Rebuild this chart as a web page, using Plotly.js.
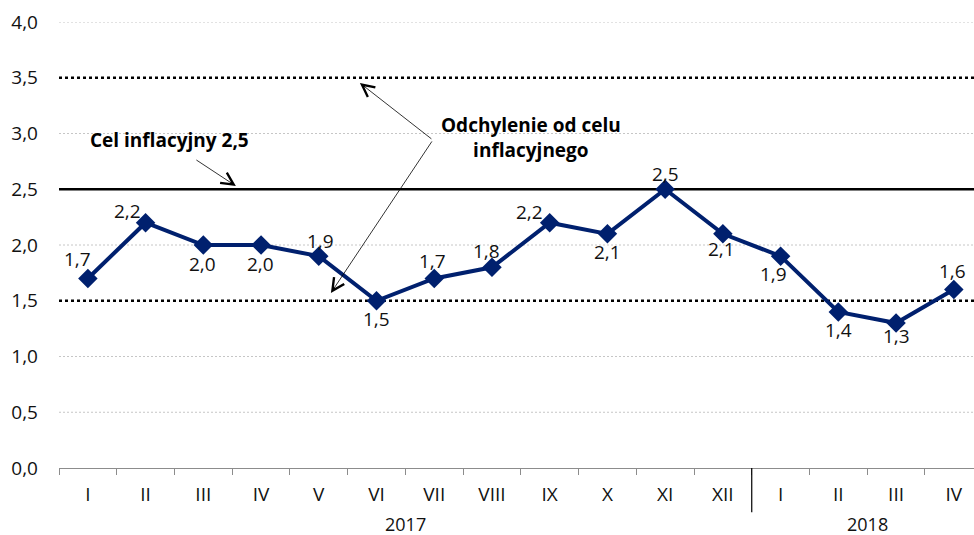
<!DOCTYPE html>
<html><head><meta charset="utf-8">
<script src="https://cdn.plot.ly/plotly-3.0.1.min.js"></script>
<style>html,body{margin:0;padding:0;background:#fff}#chart{width:974px;height:535px}</style>
</head><body><div id="chart"></div>
<script>
const months = ['I','II','III','IV','V','VI','VII','VIII','IX','X','XI','XII','I','II','III','IV'];
const years = ['2017','2018'];
const yearFirst = [0, 12];
const yearLast = [11, 15];
const inflation = [1.7,2.2,2.0,2.0,1.9,1.5,1.7,1.8,2.2,2.1,2.5,2.1,1.9,1.4,1.3,1.6];
const target = 2.5;
const bandLow = 1.5;
const bandHigh = 3.5;
const yTicks = [0,0.5,1,1.5,2,2.5,3,3.5,4];

// label offsets in pixels (style only)
const labelShiftX = [-10,-18,-1,-1,2,0,-2,-5,-20,0,0,-1,-7,0,0,-1];
const labelShiftY = [18,11,-20,-20,14,-19,16,15,10,-19,14,-16,-19,-19,-14,18];

const xIdx = months.map((m,i)=>i);
const fmt = v => v.toFixed(1).replace('.', ',');
const navy = '#00206e';
const FONT = 'Open Sans, sans-serif';

const trace = {
  x: xIdx, y: inflation, type: 'scatter', mode: 'lines+markers',
  line: {color: navy, width: 4},
  marker: {symbol: 'diamond', size: 15, color: navy},
  cliponaxis: false, hoverinfo: 'skip'
};

const refLines = [bandLow, target, bandHigh];
const shapes = [];
// light dashed gridlines (skip 0 = axis line, and the reference lines)
yTicks.filter(v => v > 0 && !refLines.includes(v)).forEach(v => {
  shapes.push({type:'line', xref:'paper', x0:0, x1:1, yref:'y', y0:v, y1:v,
    line:{color:'#c6c6c6', width:1, dash:'2px,2px'}, layer:'below'});
});
shapes.push(
  {type:'line', xref:'paper', x0:0, x1:1, yref:'y', y0:bandHigh, y1:bandHigh, line:{color:'#000', width:2.5, dash:'dot'}, layer:'between'},
  {type:'line', xref:'paper', x0:0, x1:1, yref:'y', y0:target, y1:target, line:{color:'#000', width:2.5}, layer:'between'},
  {type:'line', xref:'paper', x0:0, x1:1, yref:'y', y0:bandLow, y1:bandLow, line:{color:'#000', width:2.5, dash:'dot'}, layer:'between'},
  {type:'line', xref:'x', x0:yearLast[0]+0.5, x1:yearLast[0]+0.5, yref:'paper', y0:0, y1:-0.099, line:{color:'#000', width:1.2}}
);

const annotations = [
  {text:'<b>Cel inflacyjny 2,5</b>', x:1.42, y:2.94, xref:'x', yref:'y', showarrow:false,
   font:{family:FONT, size:19, color:'#000'}},
  {text:'<b>Odchylenie od celu<br>inflacyjnego</b>', x:7.67, y:2.96, xref:'x', yref:'y', showarrow:false,
   font:{family:FONT, size:19, color:'#000'}},
  {text:'', x:2.564, y:2.529, xref:'x', yref:'y', showarrow:true, ax:-41, ay:-27,
   arrowhead:5, arrowsize:3, arrowwidth:0.8, arrowcolor:'#000'},
  {text:'', x:4.712, y:3.453, xref:'x', yref:'y', showarrow:true, ax:73, ay:57,
   arrowhead:5, arrowsize:3, arrowwidth:0.8, arrowcolor:'#000'},
  {text:'', x:4.21, y:1.57, xref:'x', yref:'y', showarrow:true, ax:102, ay:-153,
   arrowhead:5, arrowsize:3, arrowwidth:0.8, arrowcolor:'#000'}
];
inflation.forEach((v,i)=>{
  annotations.push({text: fmt(v), x:i, y:v, xref:'x', yref:'y', showarrow:false,
    xanchor:'center', yanchor:'middle', xshift:labelShiftX[i], yshift:labelShiftY[i]+1,
    font:{family:FONT, size:19, color:'#111'}});
});
years.forEach((yr,i)=>{
  annotations.push({text: yr, x:(yearFirst[i]+yearLast[i])/2, y:-0.1256, xref:'x', yref:'paper',
    yanchor:'middle', showarrow:false, font:{family:FONT, size:18, color:'#111'}});
});

const layout = {
  width: 974, height: 535,
  margin: {l:59, r:0, t:22, b:67},
  paper_bgcolor:'#fff', plot_bgcolor:'#fff',
  separators: ', ',
  showlegend: false,
  xaxis: {
    range:[-0.5, 15.35], tickmode:'array', tickvals:xIdx, ticktext:months,
    ticks:'outside', ticklen:9, tickcolor:'rgba(0,0,0,0)',
    tickfont:{family:FONT, size:19, color:'#111'},
    showgrid:false, zeroline:false, showline:true, linecolor:'#8c8c8c', linewidth:1,
    minor:{tickmode:'linear', tick0:-0.5, dtick:1, ticks:'outside', ticklen:6, tickcolor:'#8c8c8c', tickwidth:1, showgrid:false},
    fixedrange:true
  },
  yaxis: {
    range:[0,4], tickmode:'array', tickvals:yTicks, tickformat:'.1f',
    tickfont:{family:FONT, size:19, color:'#111'}, ticks:'', ticklabelstandoff:20,
    showgrid:false, zeroline:false, showline:false, fixedrange:true
  },
  shapes: shapes,
  annotations: annotations
};

Plotly.newPlot('chart', [trace], layout, {staticPlot:true, displayModeBar:false});
</script>
</body></html>
